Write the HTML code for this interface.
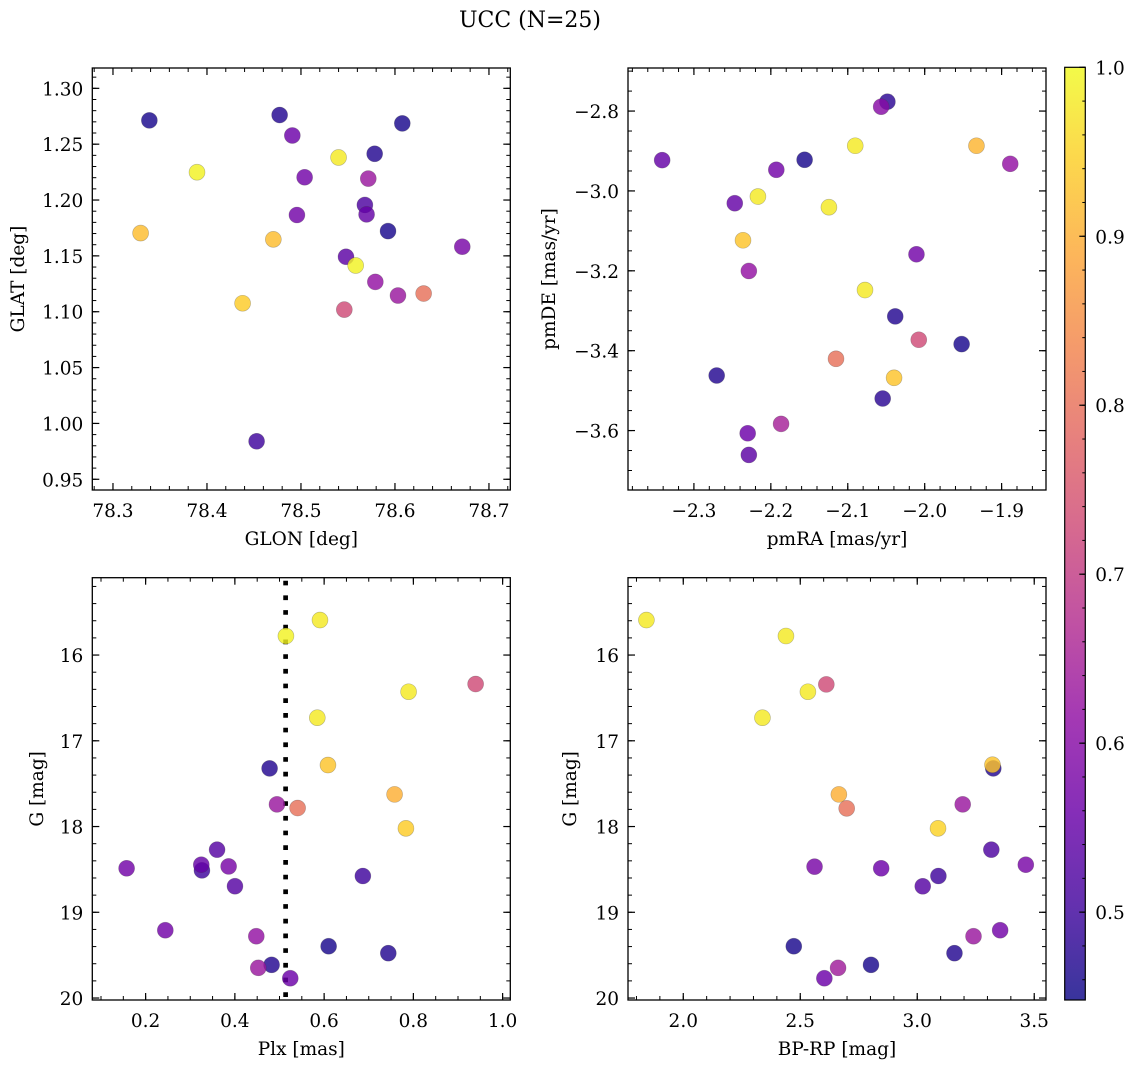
<!DOCTYPE html>
<html><head><meta charset="utf-8"><style>
html,body{margin:0;padding:0;background:#fff;}
svg{display:block;font-family:"DejaVu Serif","Liberation Serif",serif;}
</style></head><body>
<svg id="fig" width="1136" height="1067" viewBox="0 0 1136 1067" xmlns="http://www.w3.org/2000/svg">
<defs>
<linearGradient id="cbgrad" x1="0" y1="1" x2="0" y2="0">
<stop offset="0" stop-color="#0d0887"/><stop offset="0.1" stop-color="#41049d"/><stop offset="0.2" stop-color="#6a00a8"/><stop offset="0.3" stop-color="#8f0da4"/><stop offset="0.4" stop-color="#b12a90"/><stop offset="0.5" stop-color="#cc4778"/><stop offset="0.6" stop-color="#e16462"/><stop offset="0.7" stop-color="#f2844b"/><stop offset="0.8" stop-color="#fca636"/><stop offset="0.9" stop-color="#fcce25"/><stop offset="1" stop-color="#f0f921"/>
</linearGradient>
</defs>
<text x="530" y="27" text-anchor="middle" font-size="22">UCC (N=25)</text>
</svg>
<script>
// ---- Panel 1: GLON vs GLAT ----
const glonX = [78.3387,78.4773,78.4908,78.6078,78.5784,78.540,78.3894,78.5039,78.5716,78.568,78.5698,78.4957,78.5926,78.3294,78.4706,78.6716,78.5479,78.5582,78.5791,78.6032,78.6305,78.5461,78.4379,78.4528];
const glatY = [1.2713,1.2761,1.2578,1.2686,1.2414,1.2381,1.2249,1.2204,1.2192,1.1956,1.1872,1.1866,1.1722,1.1704,1.1648,1.1582,1.1492,1.1414,1.1267,1.1145,1.1163,1.1019,1.1076,0.9840];
const glProb = [0.46,0.47,0.56,0.46,0.47,0.98,0.99,0.57,0.63,0.52,0.55,0.57,0.46,0.92,0.92,0.58,0.54,0.99,0.62,0.63,0.8,0.73,0.94,0.5];
// ---- Panel 2: pmRA vs pmDE ----
const pmraX = [-2.3413,-2.0485,-2.0566,-2.0903,-1.9327,-1.8888,-2.1561,-2.1929,-2.2469,-2.2168,-2.1245,-2.2362,-2.0107,-2.2286,-2.0776,-2.0383,-2.0077,-1.952,-2.1153,-2.2704,-2.0398,-2.0546,-2.1867,-2.2301,-2.2286];
const pmdeY = [-2.9229,-2.7766,-2.7891,-2.8869,-2.8869,-2.9321,-2.922,-2.9471,-3.0307,-3.014,-3.0408,-3.1235,-3.1586,-3.2004,-3.2481,-3.3141,-3.3726,-3.3835,-3.4203,-3.4621,-3.4679,-3.5197,-3.5833,-3.6067,-3.661];
const pmProb = [0.55,0.48,0.6,0.98,0.91,0.62,0.46,0.57,0.55,0.98,0.98,0.93,0.57,0.62,0.98,0.47,0.73,0.46,0.8,0.47,0.93,0.48,0.65,0.56,0.54];
// ---- Panel 3: Plx vs G ----
const plxX = [0.5907,0.5144,0.9395,0.7893,0.5847,0.6086,0.4778,0.7579,0.4943,0.5406,0.7833,0.3601,0.3262,0.3247,0.3860,0.1574,0.6868,0.4002,0.2441,0.4480,0.6101,0.7438,0.4823,0.4524,0.5241];
const plxG = [15.592,15.778,16.338,16.428,16.731,17.283,17.322,17.625,17.741,17.784,18.021,18.27,18.511,18.445,18.465,18.487,18.577,18.696,19.209,19.279,19.396,19.477,19.613,19.648,19.769];
const plxProb = [0.98,0.99,0.73,0.98,0.98,0.93,0.47,0.9,0.63,0.8,0.94,0.53,0.5,0.55,0.58,0.57,0.5,0.53,0.57,0.62,0.46,0.47,0.47,0.63,0.56];
const plxLine = 0.5137;
// ---- Panel 4: BP-RP vs G ----
const bprpX = [1.8425,2.4389,2.6114,2.5327,2.3384,3.325,3.3216,2.6650,2.6985,3.1943,3.0888,3.3166,3.4640,2.5611,2.8459,3.0904,3.0235,3.3543,3.2405,2.4724,3.1591,2.8023,2.6616,2.6030];
const bprpG = [15.592,15.778,16.342,16.428,16.731,17.322,17.279,17.625,17.788,17.741,18.021,18.27,18.445,18.468,18.487,18.577,18.697,19.209,19.279,19.396,19.477,19.613,19.648,19.769];
const bprpProb = [0.98,0.98,0.73,0.98,0.98,0.47,0.93,0.9,0.8,0.63,0.95,0.52,0.58,0.58,0.56,0.5,0.53,0.57,0.63,0.46,0.47,0.46,0.64,0.56];
// ---- colorbar ----
const cbTicks = [0.5,0.6,0.7,0.8,0.9,1.0];
const cbMin = 0.448, cbMax = 1.0;

const NS = "http://www.w3.org/2000/svg";
const svg = document.getElementById('fig');
function mk(tag, attrs, parent){ const e=document.createElementNS(NS,tag); for(const k in attrs) e.setAttribute(k,attrs[k]); (parent||svg).appendChild(e); return e; }

const stops=[[13,8,135],[65,4,157],[106,0,168],[143,13,164],[177,42,144],[204,71,120],[225,100,98],[242,132,75],[252,166,54],[252,206,37],[240,249,33]];
function plasma(t){ t=Math.max(0,Math.min(1,t)); const f=t*10; const i=Math.min(9,Math.floor(f)); const r=f-i; const a=stops[i], b=stops[i+1];
  return 'rgb('+[0,1,2].map(k=>Math.round(a[k]+(b[k]-a[k])*r)).join(',')+')'; }
function pcolor(p){ return plasma((p-cbMin)/(cbMax-cbMin)); }

function fmt(v,d){ const s=Math.abs(v).toFixed(d); return (v<-1e-9?'\u2212':'')+s; }
const FS = 18.5;

function panel(o){
  const g=mk('g',{});
  
  
  const sx=v=>o.L+(v-o.x0)/(o.x1-o.x0)*(o.R-o.L);
  const sy=v=>o.inv ? o.T+(v-o.y0)/(o.y1-o.y0)*(o.B-o.T) : o.B-(v-o.y0)/(o.y1-o.y0)*(o.B-o.T);
  const eps=1e-9;
  function ticksRange(a,b,step){ const out=[]; const s=Math.ceil(Math.min(a,b)/step-eps); const e=Math.floor(Math.max(a,b)/step+eps); for(let k=s;k<=e;k++) out.push(+(k*step).toFixed(6)); return out; }
  ticksRange(o.x0,o.x1,o.xmin).forEach(v=>{ const x=sx(v); mk('line',{x1:x,x2:x,y1:o.B,y2:o.B-4,stroke:'#000','stroke-width':1},g); mk('line',{x1:x,x2:x,y1:o.T,y2:o.T+4,stroke:'#000','stroke-width':1},g); });
  ticksRange(o.y0,o.y1,o.ymin).forEach(v=>{ const y=sy(v); mk('line',{x1:o.L,x2:o.L+4,y1:y,y2:y,stroke:'#000','stroke-width':1},g); mk('line',{x1:o.R,x2:o.R-4,y1:y,y2:y,stroke:'#000','stroke-width':1},g); });
  ticksRange(o.x0,o.x1,o.xmaj).forEach(v=>{ const x=sx(v); mk('line',{x1:x,x2:x,y1:o.B,y2:o.B-7,stroke:'#000','stroke-width':1.2},g); mk('line',{x1:x,x2:x,y1:o.T,y2:o.T+7,stroke:'#000','stroke-width':1.2},g);
    const t=mk('text',{x:x,y:o.B+27,'text-anchor':'middle','font-size':FS},g); t.textContent=fmt(v,o.xd);
      });
  ticksRange(o.y0,o.y1,o.ymaj).forEach(v=>{ const y=sy(v); mk('line',{x1:o.L,x2:o.L+7,y1:y,y2:y,stroke:'#000','stroke-width':1.2},g); mk('line',{x1:o.R,x2:o.R-7,y1:y,y2:y,stroke:'#000','stroke-width':1.2},g);
    const t=mk('text',{x:o.L-9,y:y+7,'text-anchor':'end','font-size':FS},g); t.textContent=fmt(v,o.yd);
      });
  if(o.vline!==undefined){ const x=sx(o.vline); const l=mk('line',{x1:x,x2:x,y1:o.T+3,y2:o.B,stroke:'#000','stroke-width':4.7,'stroke-dasharray':'4.7 10'},g);
      }
  o.xs.forEach((xv,i)=>{ const c=mk('circle',{cx:sx(xv),cy:sy(o.ys[i]),r:8,fill:pcolor(o.ps[i]),'fill-opacity':0.82,stroke:'rgba(60,60,60,0.35)','stroke-width':0.6},g);
      });
  mk('rect',{x:o.L,y:o.T,width:o.R-o.L,height:o.B-o.T,fill:'none',stroke:'#000','stroke-width':1.3},g);
  const xl=mk('text',{x:(o.L+o.R)/2,y:o.B+55,'text-anchor':'middle','font-size':FS},g); xl.textContent=o.xlabel;
   
  const yl=mk('text',{x:o.ylx,y:(o.T+o.B)/2,'text-anchor':'middle','font-size':FS,transform:'rotate(-90 '+o.ylx+' '+(o.T+o.B)/2+')'},g); yl.textContent=o.ylabel;
   
}

panel({name:'glon-glat-panel',L:92.3,R:510.3,T:68,B:490,x0:78.278,x1:78.7227,y0:0.9404,y1:1.3182,xmaj:0.1,xmin:0.02,ymaj:0.05,ymin:0.01,xd:1,yd:2,xs:glonX,ys:glatY,ps:glProb,xlabel:'GLON [deg]',ylabel:'GLAT [deg]',ylx:24});
panel({name:'proper-motion-panel',L:628,R:1046,T:68,B:490,x0:-2.3857,x1:-1.8423,y0:-3.7488,y1:-2.6922,xmaj:0.1,xmin:0.02,ymaj:0.2,ymin:0.05,xd:1,yd:1,xs:pmraX,ys:pmdeY,ps:pmProb,xlabel:'pmRA [mas/yr]',ylabel:'pmDE [mas/yr]',ylx:555});
panel({name:'parallax-magnitude-panel',L:92.3,R:510.3,T:577.7,B:1000,x0:0.0805,x1:1.0172,y0:15.098,y1:20.023,inv:true,xmaj:0.2,xmin:0.05,ymaj:1,ymin:0.2,xd:1,yd:0,xs:plxX,ys:plxG,ps:plxProb,vline:plxLine,xlabel:'Plx [mas]',ylabel:'G [mag]',ylx:43});
panel({name:'color-magnitude-panel',L:628,R:1046,T:577.7,B:1000,x0:1.7638,x1:3.5503,y0:15.098,y1:20.023,inv:true,xmaj:0.5,xmin:0.1,ymaj:1,ymin:0.2,xd:1,yd:0,xs:bprpX,ys:bprpG,ps:bprpProb,xlabel:'BP-RP [mag]',ylabel:'G [mag]',ylx:576});

const cbg=mk('g',{});


const cL=1064.7,cR=1085.3,cT=67.3,cB=1000;
const cy=v=>cB-(v-cbMin)/(cbMax-cbMin)*(cB-cT);
mk('rect',{x:cL,y:cT,width:cR-cL,height:cB-cT,fill:'url(#cbgrad)','fill-opacity':0.82},cbg);
for(let k=23;k<=50;k++){ const v=k*0.02; if(v<cbMin-1e-9||v>cbMax+1e-9) continue; const y=cy(v); mk('line',{x1:cR,x2:cR-3,y1:y,y2:y,stroke:'#000','stroke-width':1},cbg); }
cbTicks.forEach(v=>{ const y=cy(v); mk('line',{x1:cR,x2:cR-6,y1:y,y2:y,stroke:'#000','stroke-width':1.2},cbg);
  const t=mk('text',{x:cR+10,y:y+7,'font-size':FS},cbg); t.textContent=v.toFixed(1);
    });
mk('rect',{x:cL,y:cT,width:cR-cL,height:cB-cT,fill:'none',stroke:'#000','stroke-width':1.2},cbg);
</script>
</body></html>
